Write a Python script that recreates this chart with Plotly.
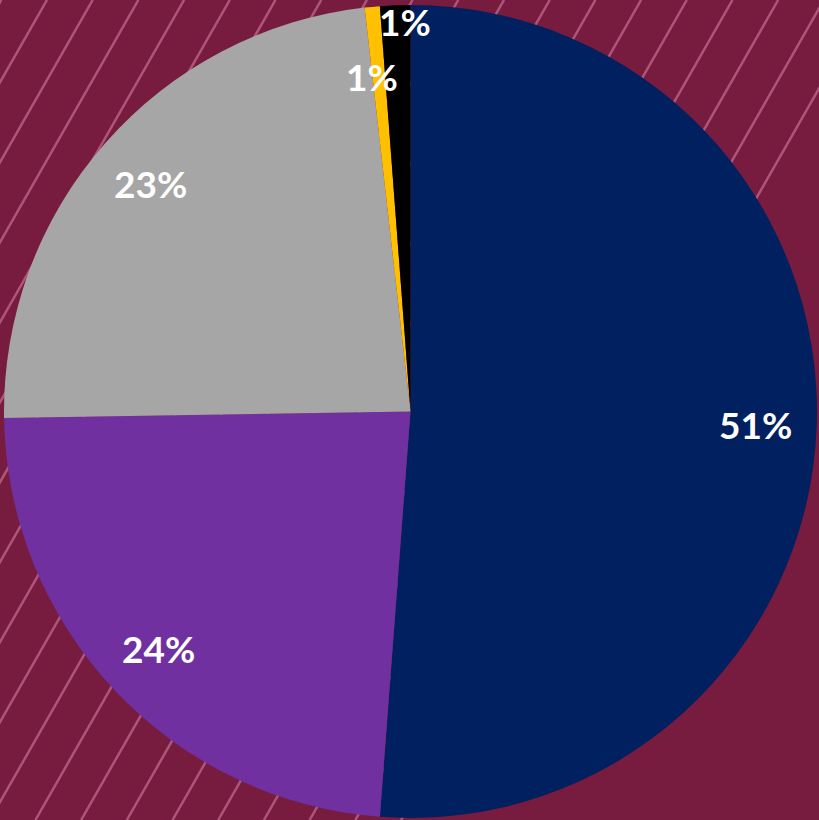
import math
import plotly.graph_objects as go

categories = ["Navy", "Purple", "Gray", "Gold", "Black"]
values = [51.2, 23.55, 23.45, 0.6, 1.2]
colors = ["#002060", "#7030A0", "#A6A6A6", "#FFC000", "#000000"]
label_radius = [0.85, 0.85, 0.85, 0.83, 0.96]
label_shift_deg = [0, 0, 0, -1.2, 1.3]

W, H = 819, 820
BG = "#771B3F"

dom_x = [3 / W, 818 / W]
dom_y = [1 - 818 / H, 1 - 5 / H]

fig = go.Figure(go.Pie(
    labels=categories,
    values=values,
    marker=dict(colors=colors, line=dict(width=0)),
    sort=False,
    direction="clockwise",
    rotation=0,
    textinfo="none",
    hoverinfo="label+percent",
    showlegend=False,
    domain=dict(x=dom_x, y=dom_y),
))

# percentage labels placed from the data (slice mid-angles)
cx_px = (dom_x[0] + dom_x[1]) / 2 * W
cy_px = (1 - (dom_y[0] + dom_y[1]) / 2) * H
rad = min((dom_x[1] - dom_x[0]) * W, (dom_y[1] - dom_y[0]) * H) / 2
total = sum(values)
cum = 0.0
for v, f, sh in zip(values, label_radius, label_shift_deg):
    mid = (cum + v / 2) / total * 2 * math.pi + math.radians(sh)
    cum += v
    px = cx_px + rad * f * math.sin(mid)
    py = cy_px - rad * f * math.cos(mid)
    fig.add_annotation(
        x=px / W, y=1 - py / H, xref="paper", yref="paper",
        text=f"{round(v / total * 100)}%", showarrow=False,
        font=dict(family="Lato", size=37, color="white", weight="bold"),
        xanchor="center", yanchor="middle",
    )

# diagonal background stripes (decoration)
spacing = 45.7
slope = 1.75
start = 47
n_before = int((H / slope) / spacing) + 2
lines = []
for i in range(-n_before, int(W / spacing) + 2):
    xt = start + i * spacing
    lines.append(dict(type="line", xref="paper", yref="paper",
                      x0=xt / W, y0=1.0, x1=(xt - H / slope) / W, y1=0.0,
                      line=dict(color="rgba(235,160,195,0.45)", width=2.5),
                      layer="below"))

fig.update_layout(
    width=W, height=H,
    margin=dict(l=0, r=0, t=0, b=0),
    paper_bgcolor=BG,
    plot_bgcolor=BG,
    shapes=lines,
)

fig.write_html(
    "out.html",
    config={"displayModeBar": False},
    post_script="document.body.style.margin='0';document.body.style.padding='0';document.body.style.overflow='hidden';",
)
